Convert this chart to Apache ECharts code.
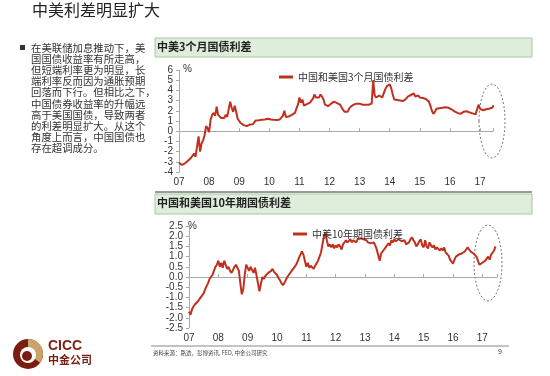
<!DOCTYPE html>
<html>
<head>
<meta charset="utf-8">
<script src="https://cdn.jsdelivr.net/npm/echarts@6/dist/echarts.min.js"></script>
<style>
  html, body { margin: 0; padding: 0; background: #fff; }
  #main { width: 550px; height: 376px; }
</style>
</head>
<body>
<div id="main"></div>
<script>
// 数据从2007年起，每0.05年一个点
var startYear = 2007;
var step = 0.05;

// 中国和美国3个月国债利差 (%)
var spread3m = [
  -3.10, -3.25, -3.30, -3.30, -3.15, -3.00, -2.90, -2.80, -2.60, -2.45, -2.20, -2.50, -2.45, -0.50, -2.00, -1.20, -0.90, -0.40, 0.50, 0.30,
  -0.10, 1.10, 1.60, 1.80, 1.50, 2.40, 1.60, 1.50, 1.30, 1.40, 1.30, 1.60, 1.40, 1.30, 2.90, 2.30, 1.90, 2.50, 1.90, 1.20,
  1.00, 0.80, 0.65, 0.60, 0.55, 0.50, 0.60, 0.65, 0.62, 0.68, 0.70, 1.05, 1.10, 1.08, 1.15, 1.12, 1.18, 1.15, 1.20, 1.22,
  1.18, 1.15, 1.20, 1.12, 1.15, 1.10, 1.05, 1.15, 1.30, 1.50, 2.00, 1.40, 1.40, 1.45, 1.55, 1.60, 1.65, 1.80, 1.90, 2.60,
  3.30, 2.80, 3.10, 2.50, 2.60, 2.65, 2.50, 2.80, 2.90, 3.20, 3.60, 3.30, 3.40, 3.30, 3.60, 3.40, 3.10, 2.60, 2.50, 2.45,
  2.50, 2.70, 2.80, 2.90, 2.90, 2.75, 2.60, 2.60, 2.50, 2.10, 1.90, 1.85, 1.90, 2.20, 2.40, 2.50, 2.60, 2.70, 2.70, 2.75,
  2.70, 2.65, 2.60, 2.65, 2.60, 2.55, 2.60, 2.60, 2.70, 5.00, 3.50, 3.30, 3.40, 3.50, 3.60, 3.30, 3.70, 4.10, 4.40, 4.50,
  4.60, 4.20, 3.60, 3.10, 3.00, 3.05, 2.95, 3.00, 3.05, 2.95, 3.00, 3.20, 3.40, 3.50, 3.55, 3.60, 3.70, 3.40, 3.30, 3.50,
  3.30, 3.20, 3.25, 3.10, 3.15, 3.10, 2.90, 2.50, 2.00, 1.70, 1.90, 2.20, 2.15, 2.25, 2.20, 2.30, 2.30, 2.35, 2.40, 2.30,
  2.20, 2.15, 2.05, 1.95, 1.85, 1.80, 1.75, 1.70, 1.75, 1.90, 1.90, 1.95, 1.90, 1.85, 1.80, 1.75, 1.70, 1.65, 1.60, 2.60,
  2.20, 2.10, 2.05, 2.10, 2.15, 2.10, 2.20, 2.15, 2.30, 2.55
];

// 中美10年期国债利差 (%)
var spread10y = [
  -1.70, -1.85, -1.60, -1.45, -1.35, -1.30, -1.20, -1.10, -1.00, -0.90, -0.80, -0.60, -0.45, -0.30, -0.10, -0.05, 0.10, 0.30, 0.50, 0.60,
  0.80, 0.50, 0.70, 0.45, 0.80, 0.60, 0.40, 0.50, 0.30, 0.20, 0.35, 0.50, 0.60, 0.55, 0.30, -0.30, -0.85, -0.60, 0.10, 0.60,
  0.45, 0.30, 0.50, 0.35, 0.20, 0.45, 0.10, -0.30, -0.70, -0.35, 0.00, -0.10, 0.05, 0.10, 0.20, 0.15, 0.30, 0.40, 0.25, 0.30,
  0.10, -0.05, -0.15, -0.30, -0.40, -0.30, -0.15, 0.00, 0.10, 0.20, 0.30, 0.35, 0.50, 0.60, 0.75, 0.95, 1.10, 1.25, 1.10, 0.80,
  0.50, 0.70, 0.45, 0.55, 0.50, 0.40, 0.55, 0.60, 0.80, 1.00, 1.20, 1.60, 2.00, 2.20, 1.80, 1.50, 1.60, 1.45, 1.60, 1.40,
  1.55, 1.45, 1.60, 1.50, 1.35, 1.60, 1.65, 1.80, 1.70, 1.75, 1.85, 1.70, 1.80, 1.75, 1.70, 1.85, 1.80, 1.90, 1.95, 1.85,
  1.90, 1.80, 1.70, 1.75, 1.65, 1.60, 1.70, 1.55, 1.35, 1.30, 0.80, 1.15, 1.25, 1.35, 1.45, 1.50, 1.65, 1.55, 1.80, 1.70,
  1.85, 1.75, 1.70, 1.85, 1.80, 1.75, 1.70, 1.80, 1.60, 1.55, 1.70, 1.85, 1.95, 1.80, 1.70, 1.50, 1.60, 1.75, 1.85, 1.55,
  1.45, 1.80, 1.50, 1.40, 1.70, 1.55, 1.45, 1.55, 1.35, 1.45, 1.40, 1.30, 1.40, 1.30, 1.45, 1.20, 1.25, 1.05, 0.85, 0.90,
  0.65, 0.85, 1.00, 0.95, 1.10, 1.05, 1.15, 1.10, 1.25, 1.30, 1.45, 1.35, 1.25, 1.20, 1.15, 1.10, 1.00, 0.80, 0.60, 0.55,
  0.70, 0.75, 0.80, 0.90, 1.00, 0.85, 1.10, 1.20, 1.30, 1.50
];

var paragraph = [
  '在美联储加息推动下，美',
  '国国债收益率有所走高，',
  '但短端利率更为明显，长',
  '端利率反而因为通胀预期',
  '回落而下行。但相比之下，',
  '中国债券收益率的升幅远',
  '高于美国国债，导致两者',
  '的利差明显扩大。从这个',
  '角度上而言，中国国债也',
  '存在超调成分。'
];

var name3m = '中国和美国3个月国债利差';
var name10y = '中美10年期国债利差';

var cjk = '"Noto Sans CJK SC", sans-serif';
var num = '"Liberation Sans", Arial, sans-serif';
var red = '#c1301e';
var axisGray = '#aaa';

function toPairs(vals) {
  var out = [];
  for (var i = 0; i < vals.length; i++) {
    out.push([+(startYear + i * step).toFixed(2), vals[i]]);
  }
  return out;
}

function yearLabel(v) {
  var r = Math.round(v);
  return Math.abs(v - r) < 1e-6 ? String(r).slice(2) : '';
}

function labelAxis(grid, max) {
  return {
    gridIndex: grid, type: 'value', min: 2007, max: max, interval: 1, position: 'bottom',
    axisLine: { show: false, onZero: false },
    axisTick: { show: false },
    splitLine: { show: false },
    axisLabel: { formatter: yearLabel, margin: 5, fontSize: 10, color: '#333', fontFamily: num }
  };
}

function zeroAxis(grid, max) {
  return {
    gridIndex: grid, type: 'value', min: 2007, max: max, interval: 1, position: 'bottom',
    axisLine: { onZero: true, lineStyle: { color: axisGray, width: 1 } },
    axisTick: { inside: true, length: 3, lineStyle: { color: axisGray } },
    axisLabel: { show: false },
    splitLine: { show: false }
  };
}

function valueAxis(grid, min, max, interval, digits) {
  return {
    gridIndex: grid, type: 'value', min: min, max: max, interval: interval,
    axisLine: { show: true, lineStyle: { color: axisGray } },
    axisTick: { show: true, length: 3, lineStyle: { color: axisGray } },
    splitLine: { show: false },
    axisLabel: {
      margin: 6, fontSize: 10, color: '#333', fontFamily: num,
      formatter: function (v) { return v.toFixed(digits); }
    }
  };
}

var chart = echarts.init(document.getElementById('main'), null, { renderer: 'canvas' });

var option = {
  backgroundColor: '#fff',
  animation: false,
  grid: [
    { left: 179, top: 70, width: 314, height: 102 },
    { left: 189, top: 226, width: 308, height: 102 }
  ],
  xAxis: [
    labelAxis(0, 2017.43), zeroAxis(0, 2017.43),
    labelAxis(1, 2017.5), zeroAxis(1, 2017.5)
  ],
  yAxis: [
    valueAxis(0, -4, 6, 1, 0),
    valueAxis(1, -2.5, 2.5, 0.5, 1)
  ],
  legend: [
    {
      data: [name3m], left: 274, top: 67, icon: 'rect', itemWidth: 14, itemHeight: 3,
      textStyle: { fontSize: 10, color: '#333', fontFamily: cjk }
    },
    {
      data: [name10y], left: 288, top: 224, icon: 'rect', itemWidth: 14, itemHeight: 3,
      textStyle: { fontSize: 10, color: '#333', fontFamily: cjk }
    }
  ],
  series: [
    {
      name: name3m, type: 'line', xAxisIndex: 0, yAxisIndex: 0,
      symbol: 'none', data: toPairs(spread3m),
      lineStyle: { color: red, width: 2 }, itemStyle: { color: red }
    },
    {
      name: name10y, type: 'line', xAxisIndex: 2, yAxisIndex: 1,
      symbol: 'none', data: toPairs(spread10y),
      lineStyle: { color: red, width: 2 }, itemStyle: { color: red }
    }
  ],
  graphic: [
    // 页面标题
    { type: 'text', left: 32, top: 2, style: { text: '中美利差明显扩大', font: '16px ' + cjk, fill: '#222' } },
    // 左侧文字
    { type: 'rect', shape: { x: 20, y: 45, width: 5, height: 5 }, style: { fill: '#333' } },
    {
      type: 'text', left: 31, top: 42,
      style: { text: paragraph.join('\n'), font: '10.4px ' + cjk, lineHeight: 11.2, fill: '#333' }
    },
    // 图一标题栏
    { type: 'rect', shape: { x: 155, y: 38, width: 377, height: 19 }, style: { fill: '#deeeda', stroke: '#a9c6a5', lineWidth: 1 } },
    { type: 'text', left: 157, top: 41, style: { text: '中美3个月国债利差', font: 'bold 11px ' + cjk, fill: '#222' } },
    { type: 'text', left: 183, top: 64, style: { text: '%', font: '10px ' + num, fill: '#333' } },
    { type: 'line', shape: { x1: 155, y1: 192, x2: 532, y2: 192 }, style: { stroke: '#999', lineWidth: 2 } },
    // 图二标题栏
    { type: 'rect', shape: { x: 155, y: 194, width: 377, height: 20 }, style: { fill: '#deeeda', stroke: '#a9c6a5', lineWidth: 1 } },
    { type: 'text', left: 157, top: 197, style: { text: '中国和美国10年期国债利差', font: 'bold 11px ' + cjk, fill: '#222' } },
    { type: 'text', left: 188, top: 221, style: { text: '%', font: '10px ' + num, fill: '#333' } },
    // 虚线椭圆
    { type: 'ellipse', shape: { cx: 492, cy: 121, rx: 13, ry: 37 }, style: { fill: 'none', stroke: '#777', lineWidth: 1, lineDash: [2, 2] } },
    { type: 'ellipse', shape: { cx: 488, cy: 263, rx: 14, ry: 38 }, style: { fill: 'none', stroke: '#777', lineWidth: 1, lineDash: [2, 2] } },
    // 页脚
    { type: 'line', shape: { x1: 151, y1: 346, x2: 509, y2: 346 }, style: { stroke: '#888', lineWidth: 1 } },
    { type: 'text', left: 153, top: 350, style: { text: '资料来源：路透，彭博资讯, FED, 中金公司研究', font: '5.5px ' + cjk, fill: '#444' } },
    { type: 'text', left: 498, top: 349, style: { text: '9', font: '7px ' + num, fill: '#444' } },
    // CICC 标志
    { type: 'circle', shape: { cx: 28, cy: 354, r: 15 }, style: { fill: '#7a1e12' } },
    { type: 'sector', shape: { cx: 28, cy: 354, r: 15, r0: 0, startAngle: -Math.PI / 2, endAngle: Math.PI / 5 }, style: { fill: '#c9a36a' } },
    { type: 'circle', shape: { cx: 28, cy: 355, r: 8 }, style: { fill: '#fff' } },
    { type: 'circle', shape: { cx: 27, cy: 356, r: 5 }, style: { fill: '#7a1e12' } },
    { type: 'text', left: 48, top: 339, style: { text: 'CICC', font: 'bold 14px ' + num, fill: '#7a1e12' } },
    { type: 'text', left: 48, top: 354, style: { text: '中金公司', font: 'bold 11px ' + cjk, fill: '#7a1e12' } }
  ]
};

chart.setOption(option);
</script>
</body>
</html>
